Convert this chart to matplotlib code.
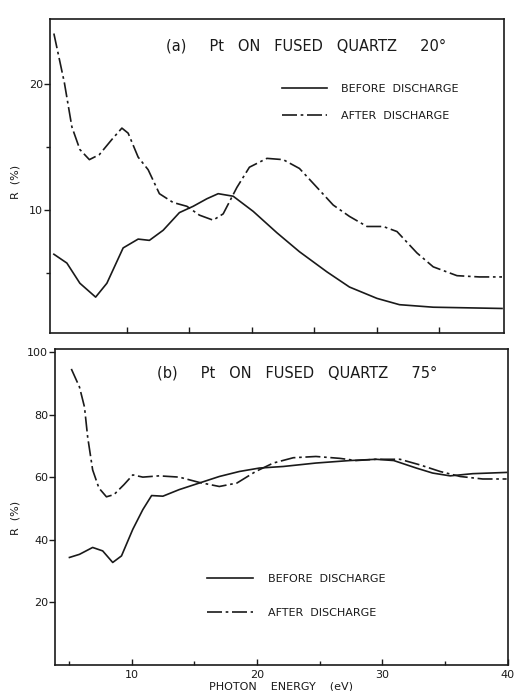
import matplotlib
matplotlib.use("Agg")
import matplotlib.pyplot as plt
from matplotlib.ticker import MultipleLocator

# ---- (a) 20 deg ----
a_before_x = [4.16, 5.2, 6.24, 7.5, 8.4, 9.7, 10.9, 11.8, 12.9, 14.2, 15.3, 16.4,
              17.3, 18.5, 20.1, 22.0, 23.8, 26.0, 27.8, 30.0, 31.8, 34.5, 40.0]
a_before_y = [6.5, 5.8, 4.2, 3.1, 4.2, 7.0, 7.7, 7.6, 8.4, 9.8, 10.3, 10.9,
              11.3, 11.1, 9.9, 8.2, 6.7, 5.1, 3.9, 3.0, 2.5, 2.3, 2.2]
a_after_x = [4.16, 5.0, 5.6, 6.24, 7.0, 7.8, 8.8, 9.6, 10.1, 10.9, 11.7, 12.6,
             13.7, 14.8, 15.8, 16.9, 17.7, 18.8, 19.8, 21.2, 22.5, 23.8, 25.2,
             26.5, 27.8, 29.2, 30.5, 31.6, 33.2, 34.5, 36.4, 38.2, 40.0]
a_after_y = [24.0, 20.1, 16.6, 14.8, 14.0, 14.4, 15.6, 16.5, 16.1, 14.2, 13.2, 11.3,
             10.6, 10.3, 9.6, 9.2, 9.7, 11.8, 13.4, 14.1, 14.0, 13.3, 11.8,
             10.4, 9.5, 8.7, 8.7, 8.3, 6.6, 5.5, 4.8, 4.7, 4.7]

# ---- (b) 75 deg ----
b_before_x = [5.05, 5.85, 6.9, 7.7, 8.5, 9.2, 10.1, 10.9, 11.6, 12.5, 13.8, 15.4,
              17.0, 18.6, 20.2, 22.1, 24.7, 27.4, 29.5, 30.9, 32.7, 34.0, 35.4,
              37.2, 39.9]
b_before_y = [34.4, 35.4, 37.6, 36.5, 32.8, 34.9, 43.4, 49.7, 54.2, 54.0, 56.1, 58.2,
              60.3, 61.9, 63.0, 63.5, 64.6, 65.4, 65.8, 65.4, 63.0, 61.4, 60.5,
              61.2, 61.6]
b_after_x = [5.2, 5.85, 6.25, 6.5, 6.9, 7.4, 8.0, 8.6, 9.4, 10.1, 10.9, 12.2, 13.8,
             15.4, 17.0, 18.4, 19.9, 21.3, 22.9, 24.7, 26.6, 27.9, 29.5, 31.4,
             33.0, 34.6, 36.2, 38.0, 39.9]
b_after_y = [94.7, 88.9, 82.5, 73.0, 62.4, 56.6, 53.8, 54.5, 57.7, 60.8, 60.1, 60.5,
             60.1, 58.4, 57.1, 58.2, 61.9, 64.6, 66.3, 66.7, 66.1, 65.4, 65.8, 65.8,
             64.0, 61.9, 60.3, 59.5, 59.5]

labels = ["BEFORE  DISCHARGE", "AFTER  DISCHARGE"]
ink = "#1a1a1a"
dashdot = (0, (9, 2.2, 1.6, 2.2))

plt.rcParams["font.family"] = "DejaVu Sans"

fig = plt.figure(figsize=(5.29, 6.91), dpi=100)
ax1 = fig.add_axes([0.0945, 0.518, 0.858, 0.4545])
ax2 = fig.add_axes([0.104, 0.0376, 0.856, 0.457])

for ax in (ax1, ax2):
    for s in ax.spines.values():
        s.set_linewidth(1.2)
        s.set_color(ink)
    ax.tick_params(axis="x", direction="in", length=4, width=1, colors=ink,
                   labelsize=8)
    ax.tick_params(axis="x", which="minor", direction="in", length=3, width=1,
                   colors=ink)
    ax.tick_params(axis="y", direction="out", length=4, width=1, colors=ink,
                   labelsize=8, pad=1)
    ax.tick_params(axis="y", which="minor", direction="out", length=3, width=1,
                   colors=ink)

# top panel
ax1.plot(a_before_x, a_before_y, color=ink, lw=1.2, label=labels[0])
ax1.plot(a_after_x, a_after_y, color=ink, lw=1.2, linestyle=dashdot, label=labels[1])
ax1.set_xlim(3.85, 40.15)
ax1.set_ylim(0.25, 25.15)
ax1.set_xticks([10, 15, 20, 25, 30, 35])
ax1.set_xticklabels([])
ax1.set_yticks([10, 20])
ax1.set_yticks([5, 15], minor=True)
ax1.set_ylabel("R  (%)", fontsize=8, color=ink)
ax1.yaxis.set_label_coords(-0.066, 0.48)
ax1.text(0.255, 0.915, "(a)     Pt   ON   FUSED   QUARTZ     20°",
         transform=ax1.transAxes, fontsize=10.5, color=ink, va="center", ha="left")
ax1.legend(loc="upper left", bbox_to_anchor=(0.512, 0.793), frameon=False, fontsize=8,
           handlelength=4.0, handletextpad=1.3, labelspacing=1.55, borderpad=0,
           borderaxespad=0, labelcolor=ink)

# bottom panel
ax2.plot(b_before_x, b_before_y, color=ink, lw=1.2, label=labels[0])
ax2.plot(b_after_x, b_after_y, color=ink, lw=1.2, linestyle=dashdot, label=labels[1])
ax2.set_xlim(3.9, 40)
ax2.set_ylim(0, 101)
ax2.set_xticks([10, 20, 30, 40])
ax2.xaxis.set_minor_locator(MultipleLocator(5))
ax2.set_yticks([20, 40, 60, 80, 100])
ax2.set_xlabel("PHOTON    ENERGY    (eV)", fontsize=8, labelpad=1, color=ink)
ax2.set_ylabel("R  (%)", fontsize=8, color=ink)
ax2.yaxis.set_label_coords(-0.077, 0.465)
ax2.text(0.225, 0.925, "(b)     Pt   ON   FUSED   QUARTZ     75°",
         transform=ax2.transAxes, fontsize=10.5, color=ink, va="center", ha="left")
ax2.legend(loc="upper left", bbox_to_anchor=(0.335, 0.287), frameon=False, fontsize=8,
           handlelength=4.2, handletextpad=1.3, labelspacing=2.1, borderpad=0,
           borderaxespad=0, labelcolor=ink)

fig.savefig("out.png", dpi=100)
